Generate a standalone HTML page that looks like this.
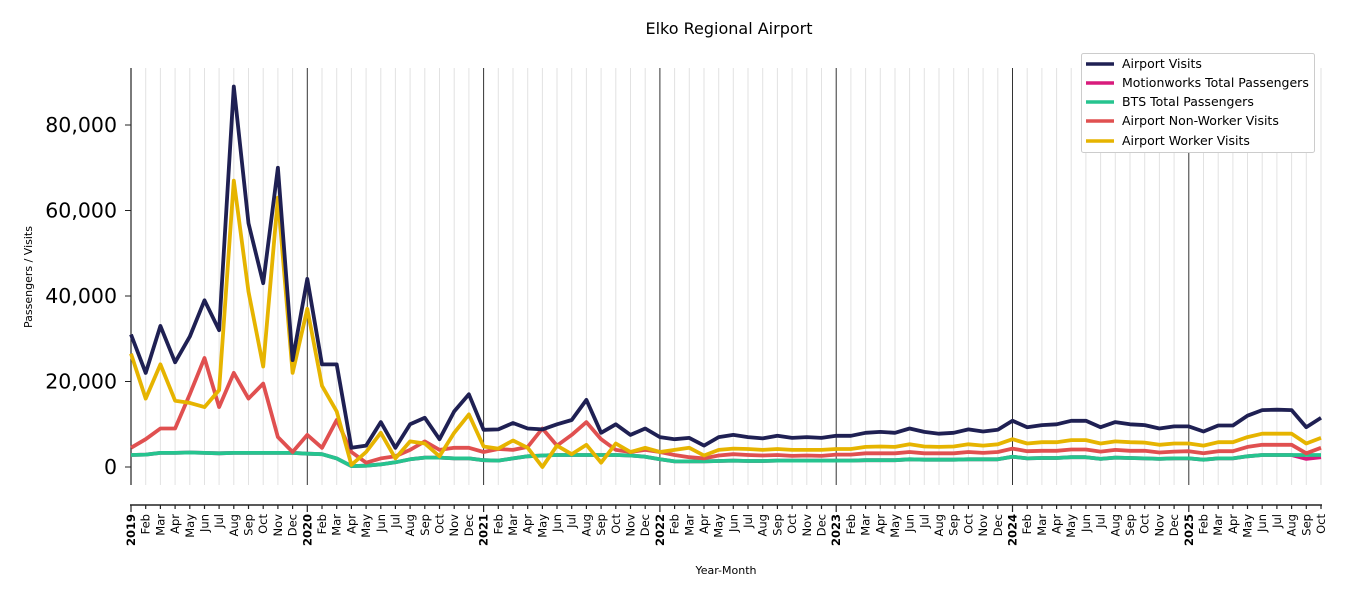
<!DOCTYPE html><html><head><meta charset="utf-8"><style>body{margin:0;background:#fff}svg{display:block;font-family:"DejaVu Sans","Liberation Sans",sans-serif}</style></head><body>
<svg id="s" width="1350" height="600" xmlns="http://www.w3.org/2000/svg">
<rect width="1350" height="600" fill="#fff"/>
<text x="729" y="34" font-size="16" text-anchor="middle">Elko Regional Airport</text>
<g id="g"></g>
<text x="32" y="277" font-size="11" text-anchor="middle" transform="rotate(-90 32 277)">Passengers / Visits</text>
<text x="726" y="574" font-size="11" text-anchor="middle">Year-Month</text>
<g id="leg">
<rect x="1081.5" y="53.5" width="233" height="99" fill="#fff" stroke="#ccc" rx="2"/>
<line x1="1086" x2="1114" y1="64" y2="64" stroke="#1f2053" stroke-width="3.5"/><text x="1122" y="68" font-size="12.5">Airport Visits</text>
<line x1="1086" x2="1114" y1="83" y2="83" stroke="#d81b7c" stroke-width="3.5"/><text x="1122" y="87" font-size="12.5">Motionworks Total Passengers</text>
<line x1="1086" x2="1114" y1="102" y2="102" stroke="#26c48f" stroke-width="3.5"/><text x="1122" y="106" font-size="12.5">BTS Total Passengers</text>
<line x1="1086" x2="1114" y1="121" y2="121" stroke="#e05050" stroke-width="3.5"/><text x="1122" y="125" font-size="12.5">Airport Non-Worker Visits</text>
<line x1="1086" x2="1114" y1="141" y2="141" stroke="#e6b400" stroke-width="3.5"/><text x="1122" y="145" font-size="12.5">Airport Worker Visits</text>
</g>
</svg>
<script>
const X0=131,DX=(1321-131)/81,Y0=467,K=85.5/20;
const X=i=>X0+i*DX,Y=v=>Y0-v*K;
const av=[31,22,33,24.5,30.5,39,32,89,57,43,70,25,44,24,24,4.5,5,10.5,4.5,10,11.5,6.5,13,17,8.7,8.8,10.3,9,8.8,10,11,15.7,8,10,7.5,9,7,6.5,6.8,5,7,7.5,7,6.7,7.3,6.8,7,6.8,7.3,7.3,8,8.2,8,9,8.2,7.8,8,8.8,8.3,8.7,10.8,9.3,9.8,10,10.8,10.8,9.3,10.5,10,9.8,9,9.5,9.5,8.3,9.7,9.7,12,13.3,13.4,13.3,9.3,11.5];
const wk=[26.5,16,24,15.5,15,14,18,67,41,23.5,63,22,37,19,13,0.5,3.5,8,2,6,5.5,2.5,8,12.3,4.8,4.3,6.2,4.5,0,5,3,5.2,1,5.5,3.5,4.5,3.5,4,4.5,2.7,4,4.3,4.2,4,4.2,4,4,4,4.2,4.2,4.7,4.8,4.7,5.3,4.8,4.7,4.8,5.3,5,5.3,6.5,5.5,5.8,5.8,6.3,6.3,5.5,6,5.8,5.7,5.2,5.5,5.5,5,5.8,5.8,7,7.8,7.8,7.8,5.5,6.8];
const nw=[4.5,6.5,9,9,17,25.5,14,22,16,19.5,7,3.5,7.5,4.5,11,3.5,1,2,2.5,4,6,4,4.5,4.5,3.5,4.2,4,4.7,9,5,7.5,10.5,6.5,4,3.5,4,3.5,2.8,2.3,2,2.7,3,2.8,2.7,2.8,2.6,2.7,2.6,2.9,2.9,3.2,3.2,3.2,3.5,3.2,3.2,3.2,3.5,3.3,3.5,4.3,3.7,3.8,3.8,4.1,4.1,3.6,4,3.8,3.8,3.4,3.6,3.7,3.2,3.7,3.7,4.7,5.2,5.2,5.2,3.2,4.5];
const bt=[2.8,2.9,3.3,3.3,3.4,3.3,3.2,3.3,3.3,3.3,3.3,3.3,3.1,3,2,0.2,0.3,0.6,1.1,1.8,2.2,2.2,2,2,1.6,1.5,2,2.5,2.7,2.8,2.8,2.8,2.8,2.8,2.7,2.4,1.8,1.3,1.3,1.3,1.4,1.5,1.4,1.4,1.5,1.5,1.5,1.5,1.5,1.5,1.6,1.6,1.6,1.8,1.7,1.7,1.7,1.8,1.8,1.8,2.4,2,2.1,2.1,2.3,2.3,1.9,2.2,2.1,2,1.9,2,2,1.7,2,2,2.5,2.8,2.8,2.8,2.8,2.8];
const mw=bt.slice();mw[80]=1.9;mw[81]=2.3;
let h='';
const M=['Jan','Feb','Mar','Apr','May','Jun','Jul','Aug','Sep','Oct','Nov','Dec'];
for(let i=0;i<82;i++){const x=X(i).toFixed(1);
 if(i%12==0){h+=`<line x1="${x}" x2="${x}" y1="68" y2="485" stroke="#333" stroke-width="1"/>`;}
 else h+=`<line x1="${x}" x2="${x}" y1="68" y2="485" stroke="#e2e2e2" stroke-width="1"/>`;
 h+=`<line x1="${x}" x2="${x}" y1="505" y2="${i%12==0?512:509}" stroke="#222" stroke-width="1.2"/>`;
 const lab=i%12==0?(2019+i/12):M[i%12];const b=i%12==0?' font-weight="bold"':'';
 h+=`<text x="0" y="0" font-size="11.5"${b} text-anchor="end" transform="translate(${+x+4},514) rotate(-90)">${lab}</text>`;}
h+=`<line x1="131" x2="131" y1="68" y2="485" stroke="#222" stroke-width="1.2"/>`;
h+=`<line x1="130" x2="1322" y1="505" y2="505" stroke="#222" stroke-width="1.5"/>`;
[[0,'0'],[20,'20,000'],[40,'40,000'],[60,'60,000'],[80,'80,000']].forEach(([v,t])=>{const y=Y(v);h+=`<line x1="125" x2="131" y1="${y}" y2="${y}" stroke="#222"/><text x="117" y="${y+7}" font-size="20.5" text-anchor="end">${t}</text>`});
const P=(d,c)=>`<polyline fill="none" stroke="${c}" stroke-width="3.8" stroke-linejoin="round" points="${d.map((v,i)=>X(i).toFixed(1)+','+Y(v).toFixed(1)).join(' ')}"/>`;
h+=P(mw,'#d81b7c')+P(bt,'#26c48f')+P(nw,'#e05050')+P(wk,'#e6b400')+P(av,'#1f2053');
document.getElementById('g').innerHTML=h;
</script></body></html>
